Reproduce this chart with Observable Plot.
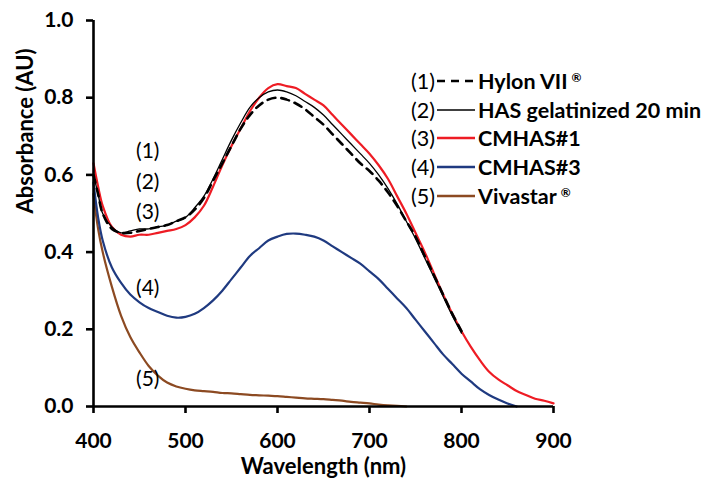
<!DOCTYPE html>
<html>
<head>
<meta charset="utf-8">
<script src="https://cdn.jsdelivr.net/npm/d3@7"></script>
<script src="https://cdn.jsdelivr.net/npm/@observablehq/plot@0.6"></script>
<style>
  html, body { margin: 0; padding: 0; background: #fff; }
  #wrap { position: relative; width: 715px; height: 484px; font-family: Lato, "Open Sans", sans-serif; }
  #legend { position: absolute; left: 411px; top: 67px; }
  .row { position: absolute; left: 0; height: 28px; display: flex; align-items: center; white-space: nowrap; font-size: 21.5px; color: #000; }
  .num { width: 26px; font-weight: normal; }
  .lbl { font-weight: bold; margin-left: 1px; }
  .lbl sup { font-size: 12px; vertical-align: 7px; margin-left: 4px; }
</style>
</head>
<body>
<div id="wrap"></div>
<script>
const wavelength = [400,405,410,420,430,440,450,460,470,480,490,500,510,520,530,540,550,560,570,580,590,600,610,620,630,640,650,660,670,680,690,700,710,720,730,740,750,760,770,780,790,800,810,820,830,840,850,860,870,880,890,900];

const hylonVII = [0.60,0.55,0.50,0.46,0.45,0.45,0.455,0.46,0.465,0.47,0.48,0.49,0.51,0.54,0.585,0.63,0.675,0.72,0.755,0.78,0.795,0.80,0.795,0.785,0.77,0.75,0.73,0.705,0.68,0.655,0.63,0.61,0.585,0.555,0.52,0.48,0.44,0.39,0.34,0.29,0.24,0.195];
const hasGel20 = [0.60,0.55,0.50,0.465,0.45,0.455,0.46,0.46,0.465,0.47,0.48,0.49,0.515,0.545,0.59,0.64,0.69,0.735,0.775,0.80,0.815,0.82,0.815,0.805,0.79,0.775,0.755,0.73,0.705,0.68,0.655,0.63,0.60,0.565,0.525,0.48,0.435,0.385,0.335,0.285,0.235,0.19];
const cmhas1 = [0.63,0.57,0.52,0.465,0.445,0.44,0.445,0.445,0.45,0.455,0.46,0.47,0.49,0.52,0.57,0.625,0.675,0.72,0.765,0.80,0.825,0.835,0.83,0.825,0.81,0.795,0.78,0.755,0.73,0.705,0.68,0.655,0.625,0.59,0.545,0.50,0.45,0.40,0.345,0.29,0.24,0.195,0.155,0.12,0.09,0.07,0.055,0.04,0.03,0.02,0.015,0.008];
const cmhas3 = [0.58,0.49,0.43,0.36,0.32,0.29,0.27,0.255,0.245,0.235,0.23,0.232,0.24,0.255,0.275,0.30,0.33,0.36,0.39,0.41,0.43,0.44,0.447,0.448,0.445,0.44,0.43,0.415,0.40,0.385,0.37,0.35,0.33,0.305,0.28,0.255,0.225,0.195,0.165,0.135,0.11,0.085,0.065,0.045,0.03,0.018,0.008,0.0];
const vivastar = [0.55,0.46,0.40,0.31,0.235,0.18,0.14,0.105,0.08,0.062,0.052,0.046,0.042,0.04,0.038,0.035,0.034,0.032,0.03,0.029,0.028,0.027,0.025,0.023,0.021,0.02,0.019,0.017,0.015,0.012,0.01,0.008,0.005,0.003,0.002,0.0];

const seriesNames = ["Hylon VII", "HAS gelatinized 20 min", "CMHAS#1", "CMHAS#3", "Vivastar"];
const seriesMarks = ["®", "", "", "", "®"];
const seriesColors = ["#000000", "#000000", "#ee1c24", "#1f3a80", "#8c4a22"];
const seriesWidths = [2.6, 1.3, 2.2, 2.2, 2.2];
const seriesDash = ["8,6", null, null, null, null];
const seriesValues = [hylonVII, hasGel20, cmhas1, cmhas3, vivastar];

const xTicks = [400, 500, 600, 700, 800, 900];
const yTicks = [0, 0.2, 0.4, 0.6, 0.8, 1.0];

const annoLabels = ["(1)", "(2)", "(3)", "(4)", "(5)"];
const annoX = [459, 459, 459, 459, 459];
const annoY = [0.66, 0.58, 0.503, 0.306, 0.07];

const rows = seriesValues.map((vals, i) =>
  vals.map((v, j) => ({wl: wavelength[j], a: v, s: i}))
);
const annos = annoLabels.map((t, i) => ({t, x: annoX[i], y: annoY[i]}));

const font = "Lato, 'Open Sans', sans-serif";
const drawOrder = [4, 3, 2, 1, 0];

const plot = Plot.plot({
  width: 715,
  height: 484,
  marginLeft: 93,
  marginRight: 162,
  marginTop: 20,
  marginBottom: 78,
  style: {fontFamily: font, background: "#fff", color: "#000"},
  x: {domain: [400, 900]},
  y: {domain: [0, 1]},
  marks: [
    ...drawOrder.map(i => Plot.line(rows[i], {
      x: "wl", y: "a", stroke: seriesColors[i], strokeWidth: seriesWidths[i],
      strokeDasharray: seriesDash[i], curve: "catmull-rom"
    })),
    Plot.text(annos, {x: "x", y: "y", text: "t", fontSize: 21, fill: "#000"}),
    Plot.ruleY([0], {stroke: "#000", strokeWidth: 2.6}),
    Plot.ruleX([400], {stroke: "#000", strokeWidth: 2.6}),
    Plot.axisX({ticks: xTicks, tickSize: 7, tickPadding: 20, fontSize: 21, fontWeight: "bold",
      strokeWidth: 2.6, label: null, tickFormat: d3.format("d")}),
    Plot.axisY({ticks: yTicks, tickSize: 7, tickPadding: 13, fontSize: 21, fontWeight: "bold",
      strokeWidth: 2.6, label: null, tickFormat: d3.format(".1f")}),
    Plot.text(["Wavelength (nm)"], {frameAnchor: "bottom", dy: 67, fontSize: 22, fontWeight: "bold", fill: "#000"}),
    Plot.text(["Absorbance (AU)"], {frameAnchor: "left", dx: -68, rotate: -90, fontSize: 22, fontWeight: "bold", fill: "#000"})
  ]
});

const wrap = document.getElementById("wrap");
wrap.appendChild(plot);

const legend = document.createElement("div");
legend.id = "legend";
seriesNames.forEach((name, i) => {
  const row = document.createElement("div");
  row.className = "row";
  row.style.top = (i * 28.7) + "px";
  const dash = seriesDash[i] ? `stroke-dasharray="8,6"` : "";
  row.innerHTML = `<span class="num">${annoLabels[i]}</span>` +
    `<svg width="40" height="10" style="display:block"><line x1="0" x2="38" y1="5" y2="5" stroke="${seriesColors[i]}" stroke-width="${i === 1 ? 1.3 : 2.6}" ${dash}/></svg>` +
    `<span class="lbl">${name}${seriesMarks[i] ? `<sup>${seriesMarks[i]}</sup>` : ""}</span>`;
  legend.appendChild(row);
});
wrap.appendChild(legend);
</script>
</body>
</html>
